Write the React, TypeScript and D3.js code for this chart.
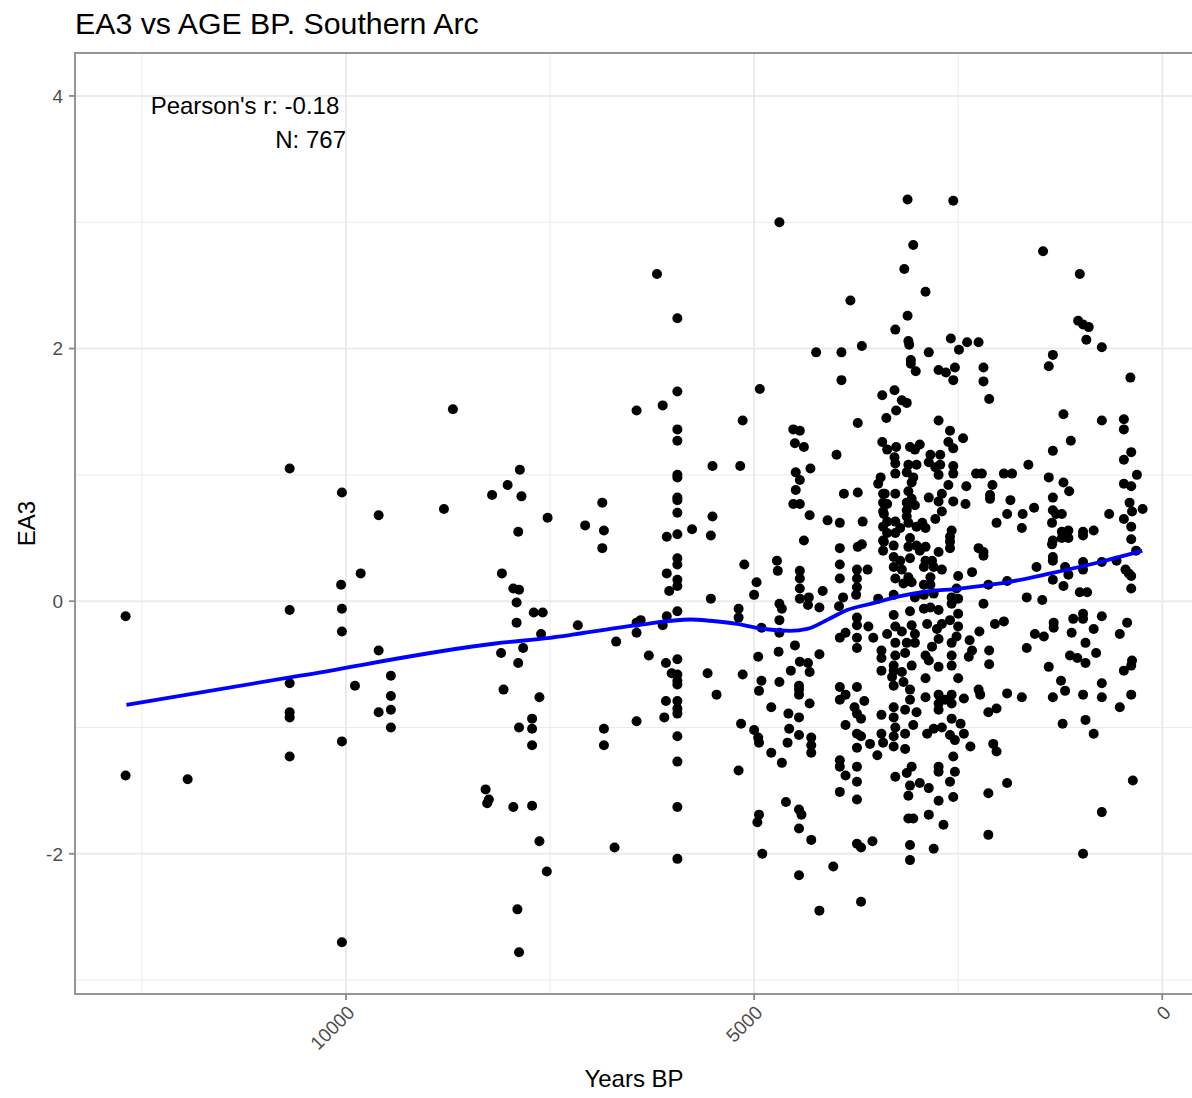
import React from "react";
import * as d3 from "d3";

// [years BP, EA3 score] per sample, split by age band
const before7000BP: [number, number][] = [
  [8690, 1.52], [10690, 1.05], [10050, 0.86], [9600, 0.68], [8800, 0.73], [8210, 0.84], [9820, 0.22], [10060, 0.13],
  [12700, -0.12], [10690, -0.07], [10050, -0.06], [10050, -0.24], [9600, -0.39], [9450, -0.59], [10690, -0.65],
  [9890, -0.67], [9450, -0.75], [10690, -0.88], [10690, -0.92], [9600, -0.88], [9450, -0.86], [9450, -1.0],
  [10050, -1.11], [10690, -1.23], [12700, -1.38], [11940, -1.41], [8290, -1.49], [8250, -1.57], [8270, -1.6],
  [10050, -2.7],
  [7870, 1.04], [8020, 0.92], [7850, 0.83], [7530, 0.66], [7070, 0.6], [7890, 0.55], [8090, 0.22], [7950, 0.1],
  [7880, 0.09], [7910, -0.01], [7700, -0.09], [7590, -0.09], [7910, -0.17], [7610, -0.26], [7160, -0.19],
  [8100, -0.41], [7830, -0.37], [7890, -0.49], [8070, -0.7], [7630, -0.76], [7720, -0.93], [7880, -1.0],
  [7720, -1.01], [7720, -1.14], [7950, -1.63], [7720, -1.62], [7630, -1.9], [7540, -2.14], [7900, -2.44],
  [7880, -2.78],
];

const from7000to5000BP: [number, number][] = [
  [6190, 2.59], [5940, 2.24], [5940, 1.66], [6440, 1.51], [6120, 1.55], [5140, 1.43], [5940, 1.36], [5940, 1.27],
  [5510, 1.07], [5170, 1.07], [5940, 1.0], [5940, 0.98], [5940, 0.82], [5940, 0.8], [5940, 0.7], [6860, 0.78],
  [6840, 0.56], [6860, 0.42], [6070, 0.51], [5940, 0.53], [5760, 0.57], [5510, 0.67], [5530, 0.52], [5940, 0.34],
  [5940, 0.29], [6070, 0.22], [5940, 0.17], [5940, 0.12], [6040, 0.08], [5120, 0.29], [5940, -0.08], [6070, -0.12],
  [5530, 0.02], [5190, -0.06], [5190, -0.13], [6440, -0.17], [6390, -0.15], [6440, -0.25], [6120, -0.19],
  [6690, -0.32], [6290, -0.43], [6080, -0.49], [5940, -0.46], [6010, -0.57], [5940, -0.58], [5940, -0.63],
  [5940, -0.66], [5570, -0.57], [5460, -0.74], [5140, -0.58], [6080, -0.79], [5940, -0.79], [5940, -0.85],
  [5940, -0.89], [6100, -0.92], [6440, -0.95], [6840, -1.01], [6840, -1.14], [5940, -1.07], [5940, -1.27],
  [5190, -1.34], [5160, -0.97], [5940, -1.63], [6710, -1.95], [5940, -2.04],
];

const from5000to3500BP: [number, number][] = [
  [4690, 3.0], [3820, 2.38], [4240, 1.97], [3930, 1.97], [3680, 2.02], [3930, 1.75], [4930, 1.68], [3730, 1.41],
  [4520, 1.36], [4440, 1.35], [4500, 1.25], [4390, 1.22], [3990, 1.16], [4310, 1.05], [4490, 1.02], [4440, 0.96],
  [4490, 0.88], [4520, 0.77], [4440, 0.77], [3900, 0.85], [3730, 0.86], [4320, 0.68], [4100, 0.64], [3950, 0.62],
  [3670, 0.63], [4390, 0.48], [3950, 0.42], [3730, 0.43], [3680, 0.45], [4720, 0.32], [4710, 0.24], [4970, 0.15],
  [5000, 0.05], [4440, 0.24], [4440, 0.18], [4440, 0.1], [4440, 0.02], [3950, 0.29], [3950, 0.18], [3740, 0.25],
  [3610, 0.25], [3740, 0.18], [3740, 0.11], [3750, 0.05], [4160, 0.08], [4330, 0.03], [3910, 0.03], [3480, 0.02],
  [3430, 1.63], [3430, 1.26], [3450, 0.98], [3480, 0.93], [3420, 0.85], [3420, 0.78], [3420, 0.71], [3420, 0.59],
  [3420, 0.48], [3420, 0.4],
  [4690, -0.02], [4660, -0.06], [4690, -0.15], [4690, -0.25], [4340, -0.03], [4200, -0.05], [3960, -0.04],
  [3740, -0.13], [3740, -0.19], [3600, -0.2], [3540, -0.29], [3880, -0.25], [3950, -0.29], [3740, -0.29],
  [3740, -0.37], [4910, -0.21], [4950, -0.44], [4700, -0.4], [4500, -0.35], [4440, -0.48], [4340, -0.49],
  [4200, -0.42], [4550, -0.55], [4320, -0.56], [4910, -0.63], [4940, -0.71], [4690, -0.64], [4450, -0.67],
  [4450, -0.7], [4450, -0.74], [4320, -0.81], [4790, -0.84], [4580, -0.89], [4450, -0.92], [4570, -1.01],
  [4450, -1.06], [4590, -1.12], [4300, -1.08], [4300, -1.14], [4300, -1.2], [5000, -1.02], [4950, -1.08],
  [4940, -1.12], [4790, -1.2], [4660, -1.28], [3950, -0.68], [3950, -0.78], [3880, -0.74], [3740, -0.68],
  [3650, -0.79], [3770, -0.84], [3740, -0.89], [3690, -0.93], [3880, -0.98], [3740, -1.05], [3690, -1.07],
  [3740, -1.16], [3580, -1.13], [3490, -1.22], [3440, -0.9], [3440, -1.05], [3420, -1.12], [3950, -1.26],
  [3950, -1.31], [3880, -1.38], [3740, -1.31], [3740, -1.43], [3740, -1.57], [3950, -1.51], [4610, -1.59],
  [4450, -1.65], [4420, -1.69], [4450, -1.8], [4300, -1.89], [4940, -1.69], [4960, -1.75], [4900, -2.0],
  [4450, -2.17], [4030, -2.1], [4200, -2.45], [3740, -1.92], [3690, -1.95], [3550, -1.9], [3690, -2.38],
  [3440, -0.39], [3440, -0.45], [3440, -0.55],
];

const from3500to2000BP: [number, number][] = [
  [3120, 3.18], [2560, 3.17], [3050, 2.82], [3160, 2.63], [2900, 2.45], [3120, 2.26], [3270, 2.15], [3110, 2.06],
  [3100, 2.03], [2860, 1.97], [2590, 2.08], [2490, 1.99], [2390, 2.05], [2250, 2.05], [3080, 1.91], [3080, 1.88],
  [3020, 1.82], [2740, 1.83], [2650, 1.81], [2540, 1.85], [2560, 1.75], [2190, 1.85], [2190, 1.74], [2120, 1.6],
  [3280, 1.67], [3190, 1.59], [3130, 1.57], [3260, 1.51], [3380, 1.45], [2740, 1.43], [2600, 1.35], [2440, 1.29],
  [2620, 1.26], [2560, 1.21], [3370, 1.2], [3260, 1.22], [3280, 1.14], [3270, 1.09], [3090, 1.22], [2970, 1.24],
  [3030, 1.2], [2840, 1.16], [2720, 1.16], [2860, 1.1], [2780, 1.06], [2720, 1.08], [2560, 1.07], [2560, 1.01],
  [2740, 1.0], [3110, 1.08], [3010, 1.08], [3130, 1.02], [3050, 0.98], [3270, 1.01], [3070, 0.94], [2620, 0.92],
  [2400, 0.91], [2280, 1.01], [2210, 1.01], [2080, 0.92], [2110, 0.84], [2110, 0.81], [3400, 0.85], [3270, 0.85],
  [3110, 0.87], [2860, 0.82], [2700, 0.85], [2740, 0.79], [2560, 0.79], [2410, 0.77], [3130, 0.78], [3070, 0.81],
  [3030, 0.76], [3370, 0.77], [3410, 0.69], [3130, 0.72], [3130, 0.67], [2700, 0.71], [2780, 0.65], [2030, 0.62],
  [3370, 0.63], [3270, 0.63], [3210, 0.58], [3110, 0.62], [3010, 0.59], [2940, 0.62], [2900, 0.58], [2580, 0.56],
  [2600, 0.51], [2600, 0.47], [2600, 0.42], [3370, 0.54], [3270, 0.54], [3410, 0.47], [3290, 0.44], [3090, 0.5],
  [3110, 0.43], [3010, 0.44], [2970, 0.4], [2900, 0.43], [2740, 0.39], [3290, 0.35], [3210, 0.32], [3090, 0.34],
  [2900, 0.32], [2820, 0.32], [2800, 0.27], [2700, 0.25], [2920, 0.27], [3290, 0.27], [3190, 0.25], [3270, 0.18],
  [3110, 0.19], [3070, 0.15], [3170, 0.14], [2920, 0.13], [2840, 0.19], [2840, 0.13], [2800, 0.06], [2500, 0.2],
  [2330, 0.23], [2250, 0.42], [2190, 0.39], [2190, 0.36], [2130, 0.13], [2520, 0.1], [2580, 0.03], [2500, 0.02],
  [3290, 0.05], [3030, 0.03], [2920, 0.05],
  [3290, -0.11], [3090, -0.08], [2920, -0.06], [2840, -0.05], [2740, -0.07], [2580, -0.02], [2500, -0.1],
  [2190, -0.02], [2050, -0.18], [3370, -0.26], [3270, -0.2], [3190, -0.24], [3070, -0.19], [3030, -0.26],
  [2880, -0.18], [2760, -0.22], [2700, -0.18], [2600, -0.15], [2500, -0.2], [3270, -0.33], [3130, -0.33],
  [3030, -0.33], [2820, -0.36], [2740, -0.3], [2580, -0.33], [2520, -0.28], [2360, -0.31], [2240, -0.24],
  [3270, -0.43], [3150, -0.41], [2900, -0.43], [2860, -0.47], [2580, -0.43], [2330, -0.39], [2370, -0.44],
  [2120, -0.39], [2120, -0.5], [3290, -0.51], [3070, -0.51], [2740, -0.52], [2580, -0.51], [3290, -0.55],
  [3310, -0.6], [3190, -0.56], [3170, -0.64], [3290, -0.67], [3090, -0.7], [3090, -0.78], [2900, -0.61],
  [2900, -0.76], [2740, -0.74], [2740, -0.81], [2740, -0.86], [2580, -0.74], [2580, -0.81], [2500, -0.61],
  [2430, -0.77], [2660, -0.78], [2250, -0.7], [2230, -0.74], [2130, -0.88], [2030, -0.85], [3290, -0.84],
  [3290, -0.92], [3150, -0.86], [3010, -0.88], [3270, -1.0], [3290, -1.07], [3150, -1.05], [3050, -0.98],
  [2880, -1.05], [2800, -1.01], [2700, -1.0], [2580, -0.93], [2470, -0.97], [2600, -1.06], [2540, -1.1],
  [2430, -1.05], [3290, -1.15], [3150, -1.17], [2350, -1.15], [2070, -1.13], [2030, -1.19], [2560, -1.23],
  [3270, -1.39], [3130, -1.36], [3070, -1.31], [2740, -1.31], [2740, -1.35], [2540, -1.35], [2600, -1.43],
  [3090, -1.46], [2970, -1.44], [2860, -1.48], [3110, -1.54], [2560, -1.55], [2740, -1.58], [2130, -1.52],
  [3110, -1.72], [3050, -1.72], [2860, -1.69], [2680, -1.77], [2130, -1.85], [3090, -1.93], [2800, -1.96],
  [3090, -2.05],
];

const after2000BP: [number, number][] = [
  [1460, 2.77], [1010, 2.59], [1030, 2.22], [970, 2.19], [900, 2.17], [930, 2.07], [740, 2.01], [1340, 1.95],
  [1390, 1.86], [390, 1.77], [1210, 1.48], [740, 1.43], [470, 1.44], [470, 1.36], [1120, 1.27], [1340, 1.19],
  [380, 1.18], [470, 1.12], [1640, 1.08], [1940, 1.01], [1840, 1.01], [1390, 0.98], [1210, 0.94], [1140, 0.87],
  [310, 1.0], [470, 0.93], [380, 0.91], [1860, 0.8], [1340, 0.82], [1570, 0.74], [1900, 0.69], [1710, 0.69],
  [1720, 0.58], [1340, 0.72], [1300, 0.69], [1230, 0.69], [1350, 0.62], [400, 0.78], [370, 0.71], [240, 0.73],
  [650, 0.69], [470, 0.65], [380, 0.59], [380, 0.49], [320, 0.4], [1230, 0.55], [1150, 0.56], [1230, 0.5],
  [1150, 0.5], [970, 0.55], [970, 0.52], [840, 0.56], [1340, 0.48], [1350, 0.45], [1340, 0.35], [1340, 0.32],
  [1540, 0.27], [1190, 0.27], [1150, 0.21], [970, 0.31], [970, 0.25], [740, 0.31], [560, 0.32], [450, 0.25],
  [410, 0.22], [380, 0.2], [1900, 0.16], [1340, 0.17], [1210, 0.12], [380, 0.1], [1660, 0.03], [1470, 0.01],
  [1010, 0.07], [920, 0.07],
  [1940, -0.16], [1330, -0.17], [1330, -0.21], [1090, -0.14], [970, -0.1], [970, -0.14], [740, -0.12],
  [430, -0.17], [1560, -0.26], [1450, -0.28], [1110, -0.25], [840, -0.22], [520, -0.26], [940, -0.33],
  [1660, -0.37], [1130, -0.43], [1040, -0.45], [940, -0.49], [810, -0.41], [370, -0.47], [380, -0.51],
  [470, -0.55], [1390, -0.52], [1240, -0.63], [1190, -0.71], [740, -0.65], [1900, -0.73], [1720, -0.76],
  [1340, -0.76], [970, -0.74], [740, -0.76], [380, -0.74], [520, -0.84], [1220, -0.97], [940, -0.94],
  [840, -1.05], [1900, -1.44], [360, -1.42], [740, -1.67], [970, -2.0],
];

// loess trend (years BP -> fitted EA3)
const smoothAge = [12690, 10560, 8170, 7500, 6435, 5780, 5540, 5210, 4920, 4560, 4350, 4110, 3860, 3540, 3210, 2965, 2475, 1985, 1370, 760, 245];
const smoothFit = [-0.82, -0.59, -0.335, -0.29, -0.19, -0.145, -0.155, -0.18, -0.217, -0.235, -0.22, -0.15, -0.07, -0.016, 0.04, 0.07, 0.1, 0.14, 0.22, 0.31, 0.4];

const xMajorTicks = [10000, 5000, 0];
const xMinorTicks = [12500, 7500, 2500];
const yMajorTicks = [-2, 0, 2, 4];
const yMinorTicks = [-3, -1, 1, 3];

const chartTitle = "EA3 vs AGE BP. Southern Arc";
const xTitle = "Years BP";
const yTitle = "EA3";
const statLines = ["Pearson's r: -0.18 ", "N: 767"];
const statAnchor = { age: 10000, ea3: 4 };

const FONT = "'Liberation Sans', Arial, Helvetica, sans-serif";

export default function App() {
  const W = 1192;
  const H = 1098;
  const panel = { left: 75, right: 1193, top: 53, bottom: 994 };

  const x = d3.scaleLinear().domain([13320, -377]).range([panel.left, panel.right]);
  const y = d3.scaleLinear().domain([-3.11, 4.34]).range([panel.bottom, panel.top]);

  const points = [...before7000BP, ...from7000to5000BP, ...from5000to3500BP, ...from3500to2000BP, ...after2000BP];

  const trend = d3
    .line<number>()
    .x((_, i) => x(smoothAge[i]))
    .y((d) => y(d))
    .curve(d3.curveMonotoneX)(smoothFit) as string;

  const gridColor = "#EBEBEB";
  const axisText = "#4D4D4D";
  const frame = "#8A8A8A";

  return (
    <svg
      width={W}
      height={H}
      style={{ position: "absolute", left: 0, top: 0, background: "#fff", fontFamily: FONT }}
    >
      <rect x={0} y={0} width={W} height={H} fill="#fff" />
      <text x={75} y={34} fontSize={30.3} fill="#000">
        {chartTitle}
      </text>

      {/* grid */}
      <g>
        {yMinorTicks.map((v) => (
          <line key={"ym" + v} x1={panel.left} x2={panel.right} y1={y(v)} y2={y(v)} stroke={gridColor} strokeWidth={1} />
        ))}
        {xMinorTicks.map((v) => (
          <line key={"xm" + v} x1={x(v)} x2={x(v)} y1={panel.top} y2={panel.bottom} stroke={gridColor} strokeWidth={1} />
        ))}
        {yMajorTicks.map((v) => (
          <line key={"yM" + v} x1={panel.left} x2={panel.right} y1={y(v)} y2={y(v)} stroke={gridColor} strokeWidth={2} />
        ))}
        {xMajorTicks.map((v) => (
          <line key={"xM" + v} x1={x(v)} x2={x(v)} y1={panel.top} y2={panel.bottom} stroke={gridColor} strokeWidth={2} />
        ))}
      </g>

      {/* samples */}
      <g fill="#000">
        {points.map(([age, v], i) => (
          <circle key={i} cx={x(age)} cy={y(v)} r={5} />
        ))}
      </g>

      <path d={trend} fill="none" stroke="#0000FF" strokeWidth={3.8} />

      <text
        fontSize={24}
        fill="#000"
        textAnchor="end"
        style={{ whiteSpace: "pre" }}
        xmlSpace="preserve"
      >
        {statLines.map((s, i) => (
          <tspan key={i} x={x(statAnchor.age)} y={y(statAnchor.ea3) + 18.5 + i * 34}>
            {s}
          </tspan>
        ))}
      </text>

      {/* panel border */}
      <rect
        x={panel.left}
        y={panel.top}
        width={panel.right - panel.left}
        height={panel.bottom - panel.top}
        fill="none"
        stroke={frame}
        strokeWidth={1.8}
      />

      {/* y axis */}
      <g>
        {yMajorTicks.map((v) => (
          <g key={"yt" + v}>
            <line x1={panel.left - 6} x2={panel.left} y1={y(v)} y2={y(v)} stroke={frame} strokeWidth={1.8} />
            <text x={panel.left - 12} y={y(v)} dy="0.36em" textAnchor="end" fontSize={19} fill={axisText}>
              {String(v)}
            </text>
          </g>
        ))}
      </g>

      {/* x axis */}
      <g>
        {xMajorTicks.map((v) => (
          <g key={"xt" + v}>
            <line x1={x(v)} x2={x(v)} y1={panel.bottom} y2={panel.bottom + 6} stroke={frame} strokeWidth={1.8} />
            <text
              transform={`translate(${x(v)},${panel.bottom + 10}) rotate(-45)`}
              dy="0.72em"
              textAnchor="end"
              fontSize={19}
              fill={axisText}
            >
              {String(v)}
            </text>
          </g>
        ))}
      </g>

      <text x={(panel.left + panel.right) / 2} y={1087} textAnchor="middle" fontSize={24} fill="#000">
        {xTitle}
      </text>
      <text transform={`translate(35,${(panel.top + panel.bottom) / 2}) rotate(-90)`} textAnchor="middle" fontSize={24} fill="#000">
        {yTitle}
      </text>
    </svg>
  );
}
